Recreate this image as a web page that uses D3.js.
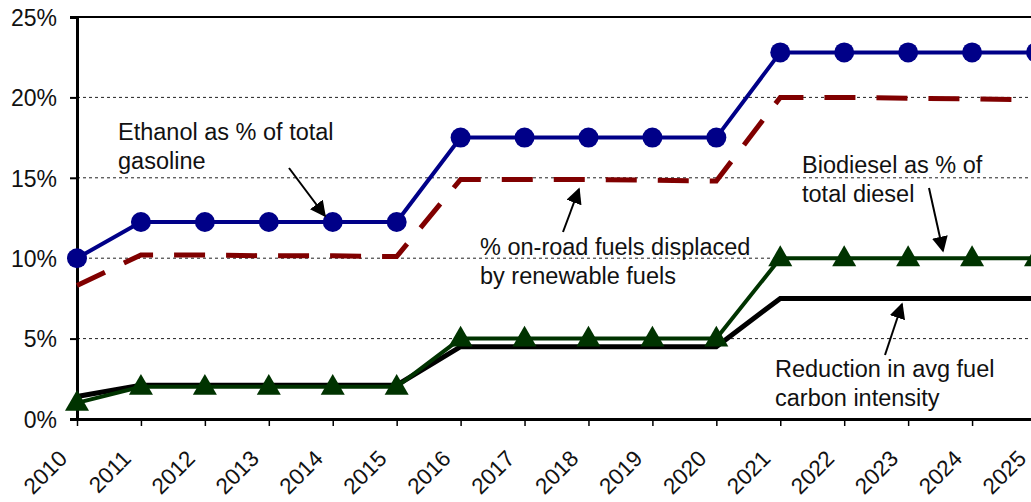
<!DOCTYPE html>
<html>
<head>
<meta charset="utf-8">
<script src="https://cdn.jsdelivr.net/npm/d3@7"></script>
<style>
body { margin: 0; background: #fff; }
text { font-family: "Liberation Sans", Arial, sans-serif; fill: #111; }
</style>
</head>
<body>
<svg width="1031" height="502"></svg>
<script>
var years = [2010, 2011, 2012, 2013, 2014, 2015, 2016, 2017, 2018, 2019, 2020, 2021, 2022, 2023, 2024, 2025];
var ethanol = [10, 12.25, 12.25, 12.25, 12.25, 12.25, 17.5, 17.5, 17.5, 17.5, 17.5, 22.8, 22.8, 22.8, 22.8, 22.8];
var displaced = [8.3, 10.2, 10.2, 10.15, 10.15, 10.1, 14.9, 14.9, 14.9, 14.85, 14.8, 20, 20, 19.95, 19.9, 19.85];
var biodiesel = [1, 2, 2, 2, 2, 2, 5, 5, 5, 5, 5, 10, 10, 10, 10, 10];
var carbon = [1.4, 2.1, 2.1, 2.1, 2.1, 2.1, 4.5, 4.5, 4.5, 4.5, 4.5, 7.5, 7.5, 7.5, 7.5, 7.5];
var yTicks = [0, 5, 10, 15, 20, 25];

var svg = d3.select('svg');
var padL = 77, padT = 17, padR = 1036, padB = 419;

var x = d3.scaleLinear().domain([2010, 2025]).range([padL, padR]);
var y = d3.scaleLinear().domain([0, 25]).range([padB, padT]);

// gridlines
svg.append('g').selectAll('line').data([5, 10, 15, 20]).enter().append('line')
    .attr('x1', padL).attr('x2', padR)
    .attr('y1', function (d) { return y(d); }).attr('y2', function (d) { return y(d); })
    .attr('stroke', '#222').attr('stroke-width', 1).attr('stroke-dasharray', '3,3');

// top border
svg.append('line').attr('x1', padL).attr('x2', padR).attr('y1', padT).attr('y2', padT)
    .attr('stroke', '#000').attr('stroke-width', 2);

// y axis
var yAxis = d3.axisLeft(y).tickValues(yTicks).tickFormat(function (d) { return d + '%'; })
    .tickSize(7).tickPadding(13);
var gy = svg.append('g').attr('transform', 'translate(' + padL + ',0)').call(yAxis);
gy.select('.domain').attr('stroke-width', 3);
gy.selectAll('.tick line').attr('stroke-width', 2);
gy.selectAll('text').style('font-size', '23px').attr('fill', '#111').attr('dy', '0.36em');

// x axis
var xAxis = d3.axisBottom(x).tickValues(years).tickFormat(d3.format('d')).tickSize(7).tickSizeOuter(0);
var gx = svg.append('g').attr('transform', 'translate(0,' + padB + ')').call(xAxis);
gx.select('.domain').attr('stroke-width', 3);
gx.selectAll('.tick line').attr('stroke-width', 1.5);
gx.selectAll('text').style('font-size', '22.5px').attr('fill', '#111')
    .attr('text-anchor', 'end').attr('y', 0).attr('dx', '0').attr('dy', '0')
    .attr('transform', 'translate(-9,41) rotate(-45)');

function lineOf(vals) {
    return d3.line().x(function (d, i) { return x(years[i]); }).y(function (d) { return y(d); })(vals);
}

var plot = svg.append('g');

plot.append('path').attr('d', lineOf(carbon)).attr('fill', 'none').attr('stroke', '#000').attr('stroke-width', 5);

plot.append('path').attr('d', lineOf(biodiesel)).attr('fill', 'none').attr('stroke', '#003300').attr('stroke-width', 4);
plot.selectAll('.tri').data(biodiesel).enter().append('path').attr('class', 'tri')
    .attr('d', d3.symbol().type(d3.symbolTriangle).size(250))
    .attr('transform', function (d, i) { return 'translate(' + x(years[i]) + ',' + (y(d) + 1) + ')'; })
    .attr('fill', '#003300');

plot.append('path').attr('d', lineOf(displaced)).attr('fill', 'none').attr('stroke', '#800000')
    .attr('stroke-width', 5).attr('stroke-dasharray', '31,21');

plot.append('path').attr('d', lineOf(ethanol)).attr('fill', 'none').attr('stroke', '#000088').attr('stroke-width', 4);
plot.selectAll('.dot').data(ethanol).enter().append('circle').attr('class', 'dot')
    .attr('cx', function (d, i) { return x(years[i]); }).attr('cy', function (d) { return y(d); })
    .attr('r', 10).attr('fill', '#000088');

// annotations
svg.append('defs').append('marker').attr('id', 'arr').attr('viewBox', '0 0 10 10')
    .attr('refX', 9).attr('refY', 5).attr('markerWidth', 16).attr('markerHeight', 16)
    .attr('markerUnits', 'userSpaceOnUse').attr('orient', 'auto')
    .append('path').attr('d', 'M0,0 L10,5 L0,10 z').attr('fill', '#000');

var notes = [
    { lines: ['Ethanol as % of total', 'gasoline'], tx: 118, ty: 140, ax1: 289, ay1: 168, ax2: 325, ay2: 216 },
    { lines: ['% on-road fuels displaced', 'by renewable fuels'], tx: 480, ty: 255, ax1: 563, ay1: 232, ax2: 579, ay2: 189 },
    { lines: ['Biodiesel as % of', 'total diesel'], tx: 802, ty: 173, ax1: 929, ay1: 188, ax2: 943, ay2: 251 },
    { lines: ['Reduction in avg fuel', 'carbon intensity'], tx: 775, ty: 377, ax1: 885, ay1: 355, ax2: 902, ay2: 304 }
];
notes.forEach(function (n) {
    var t = svg.append('text').attr('x', n.tx).attr('y', n.ty).style('font-size', '23.5px');
    n.lines.forEach(function (l, i) {
        t.append('tspan').attr('x', n.tx).attr('dy', i === 0 ? 0 : 28.5).text(l);
    });
    svg.append('line').attr('x1', n.ax1).attr('y1', n.ay1).attr('x2', n.ax2).attr('y2', n.ay2)
        .attr('stroke', '#000').attr('stroke-width', 2).attr('marker-end', 'url(#arr)');
});
</script>
</body>
</html>
